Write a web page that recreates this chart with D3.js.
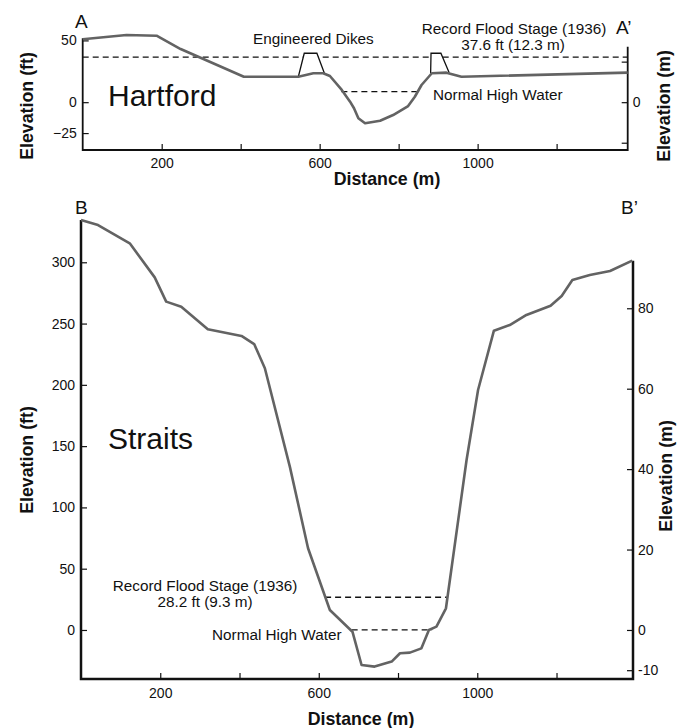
<!DOCTYPE html>
<html>
<head>
<meta charset="utf-8">
<script src="https://cdn.jsdelivr.net/npm/d3@7"></script>
<style>
  body { margin: 0; background: #fff; }
  svg { display: block; font-family: "Liberation Sans", Arial, Helvetica, sans-serif; }
</style>
</head>
<body>
<svg id="chart" width="687" height="728"></svg>
<script>
// Hartford profile (A - A')
const hartfordDist = [0, 111, 187, 248, 408, 546, 584, 609, 626, 656, 677, 687, 698, 715, 753, 786, 824, 841, 858, 884, 921, 959, 1380];
const hartfordElev = [50.9, 54.4, 53.8, 43, 20.6, 20.6, 23.4, 23.4, 21.2, 9.9, 0.4, -4.9, -13, -17.1, -15, -10.4, -3.1, 4.4, 13.9, 23.4, 23.9, 20.6, 23.9];
const dike1Dist = [546, 561, 593, 612];
const dike1Elev = [20.6, 39.6, 39.6, 23.4];
const dike2Dist = [881, 882, 907, 928];
const dike2Elev = [23.4, 39.6, 39.6, 23.9];
const hartfordFlood = 36.5;      // ft
const hartfordNormal = 8.5;      // ft
const hartfordNormalRange = [655, 850];

// Straits profile (B - B')
const straitsDist = [0, 43, 123, 186, 215, 253, 320, 405, 437, 464, 527, 573, 628, 685, 708, 741, 784, 805, 830, 859, 878, 897, 921, 973, 1002, 1042, 1082, 1124, 1185, 1213, 1240, 1284, 1335, 1391];
const straitsElev = [334.5, 330.4, 315.5, 287.7, 267.9, 263.8, 245.3, 239.9, 233.3, 213.5, 133.3, 66.7, 16.3, -1.4, -28.6, -29.9, -25.8, -19, -18.5, -15, 0, 2.7, 17.7, 138.7, 195.8, 244.2, 248.8, 257, 264.6, 272.5, 285.5, 289.6, 292.9, 301.3];
const straitsFlood = 26.7;
const straitsFloodRange = [616, 923];
const straitsNormal = 0;
const straitsNormalRange = [683, 886];

// ticks
const xTicks = [200, 400, 600, 800, 1000, 1200];
const xLabels = [200, 600, 1000];
const topFtTicks = [-25, 0, 50];
const topMTicks = [-10, 0, 10];
const topMLabels = [0];
const botFtTicks = [0, 50, 100, 150, 200, 250, 300];
const botMTicks = [-10, 0, 20, 40, 60, 80];

const FT_PER_M = 3.281;
const svg = d3.select("#chart");
const lineColor = "#636363";
const noteSize = 15.3;
const titleSize = 17.8;

function label(txt, x, y, opts = {}) {
    const t = svg.append("text")
        .attr("x", x).attr("y", y)
        .attr("font-size", opts.size || noteSize)
        .attr("font-weight", opts.weight || "normal")
        .attr("text-anchor", opts.anchor || "start")
        .attr("fill", "#111")
        .text(txt);
    if (opts.rotate) {
        t.attr("x", 0).attr("y", 0)
         .attr("transform", `translate(${x},${y}) rotate(-90)`);
    }
    return t;
}

function drawPanel(cfg) {
    const x = d3.scaleLinear().domain(cfg.xDomain).range([cfg.left, cfg.right]);
    const yFt = d3.scaleLinear().domain(cfg.ftDomain).range([cfg.bottom, cfg.top]);
    const yM = d3.scaleLinear().domain(cfg.ftDomain.map(v => v / FT_PER_M)).range([cfg.bottom, cfg.top]);
    const g = svg.append("g");

    // x axis
    const xAxis = g.append("g")
        .attr("transform", `translate(0,${cfg.bottom})`)
        .call(d3.axisBottom(x).tickValues(xTicks).tickSize(-6).tickSizeOuter(0).tickPadding(cfg.xPad)
            .tickFormat(d => xLabels.includes(d) ? d : ""));
    // left axis
    const yAxisL = g.append("g")
        .attr("transform", `translate(${cfg.left},0)`)
        .call(d3.axisLeft(yFt).tickValues(cfg.ftTicks).tickSize(-6).tickSizeOuter(0).tickPadding(6));
    // right axis
    const yAxisR = g.append("g")
        .attr("transform", `translate(${cfg.right},0)`)
        .call(d3.axisRight(yM).tickValues(cfg.mTicks).tickSize(-6).tickSizeOuter(0).tickPadding(5)
            .tickFormat(d => cfg.mLabels.includes(d) ? d : ""));

    [xAxis, yAxisL, yAxisR].forEach(a => {
        a.select(".domain").remove();
        a.selectAll(".tick line").attr("stroke", "#111").attr("stroke-width", 1.2);
        a.selectAll(".tick text").attr("font-size", 14).attr("fill", "#111")
            .attr("font-family", "Liberation Sans, Arial, sans-serif");
    });

    // axis frame lines
    g.append("path")
        .attr("d", `M${cfg.left},${yFt(cfg.leftTop)}V${cfg.bottom}H${cfg.right}V${yFt(cfg.rightTop)}`)
        .attr("fill", "none").attr("stroke", "#111").attr("stroke-width", cfg.axisWidth);

    return { x, yFt, g };
}

function dashed(p, d0, d1, elev) {
    p.g.append("line")
        .attr("x1", p.x(d0)).attr("x2", p.x(d1))
        .attr("y1", p.yFt(elev)).attr("y2", p.yFt(elev))
        .attr("stroke", "#111").attr("stroke-width", 1.3)
        .attr("stroke-dasharray", "6,4");
}

function profile(p, dist, elev) {
    const line = d3.line().x(d => p.x(d[0])).y(d => p.yFt(d[1]));
    p.g.append("path")
        .datum(d3.zip(dist, elev))
        .attr("d", line)
        .attr("fill", "none").attr("stroke", lineColor)
        .attr("stroke-width", 2.6).attr("stroke-linejoin", "round");
}

// ---------- Top panel: Hartford ----------
const topP = drawPanel({
    xDomain: [0, 1380], left: 82.7, right: 627.7,
    ftDomain: [-38.7, 51.7], bottom: 150, top: 38.3,
    leftTop: 51.7, rightTop: 44.9, xPad: 8, axisWidth: 1.8,
    ftTicks: topFtTicks, mTicks: topMTicks, mLabels: topMLabels
});
dashed(topP, 0, 1380, hartfordFlood);
dashed(topP, hartfordNormalRange[0], hartfordNormalRange[1], hartfordNormal);
[[dike1Dist, dike1Elev], [dike2Dist, dike2Elev]].forEach(([dd, ee]) => {
    topP.g.append("path")
        .datum(d3.zip(dd, ee))
        .attr("d", d3.line().x(d => topP.x(d[0])).y(d => topP.yFt(d[1])))
        .attr("fill", "#fff").attr("stroke", "#111").attr("stroke-width", 1.3);
});
profile(topP, hartfordDist, hartfordElev);

label("A", 75, 28, { size: 19 });
label("A\u2019", 616, 34, { size: 19 });
label("Hartford", 108, 106, { size: 30 });
label("Engineered Dikes", 253, 43.5);
label("Record Flood Stage (1936)", 514, 34, { anchor: "middle" });
label("37.6 ft (12.3 m)", 513, 49.5, { anchor: "middle" });
label("Normal High Water", 433, 99.5);
label("Distance (m)", 387, 185, { size: titleSize, weight: "bold", anchor: "middle" });
label("Elevation (ft)", 33, 106, { size: titleSize, weight: "bold", anchor: "middle", rotate: true });
label("Elevation (m)", 670, 106, { size: titleSize, weight: "bold", anchor: "middle", rotate: true });

// ---------- Bottom panel: Straits ----------
const botP = drawPanel({
    xDomain: [0, 1393], left: 81, right: 633,
    ftDomain: [-40, 334.5], bottom: 679, top: 220,
    leftTop: 334.5, rightTop: 301.3, xPad: 9, axisWidth: 2.5,
    ftTicks: botFtTicks, mTicks: botMTicks, mLabels: botMTicks
});
dashed(botP, straitsFloodRange[0], straitsFloodRange[1], straitsFlood);
dashed(botP, straitsNormalRange[0], straitsNormalRange[1], straitsNormal);
profile(botP, straitsDist, straitsElev);

label("B", 75, 214, { size: 19 });
label("B\u2019", 621, 214, { size: 19 });
label("Straits", 108, 449, { size: 30 });
label("Record Flood Stage (1936)", 205, 591, { anchor: "middle" });
label("28.2 ft (9.3 m)", 205, 606.5, { anchor: "middle" });
label("Normal High Water", 212, 640);
label("Distance (m)", 361, 725, { size: titleSize, weight: "bold", anchor: "middle" });
label("Elevation (ft)", 33, 460, { size: titleSize, weight: "bold", anchor: "middle", rotate: true });
label("Elevation (m)", 672, 476, { size: titleSize, weight: "bold", anchor: "middle", rotate: true });
</script>
</body>
</html>
